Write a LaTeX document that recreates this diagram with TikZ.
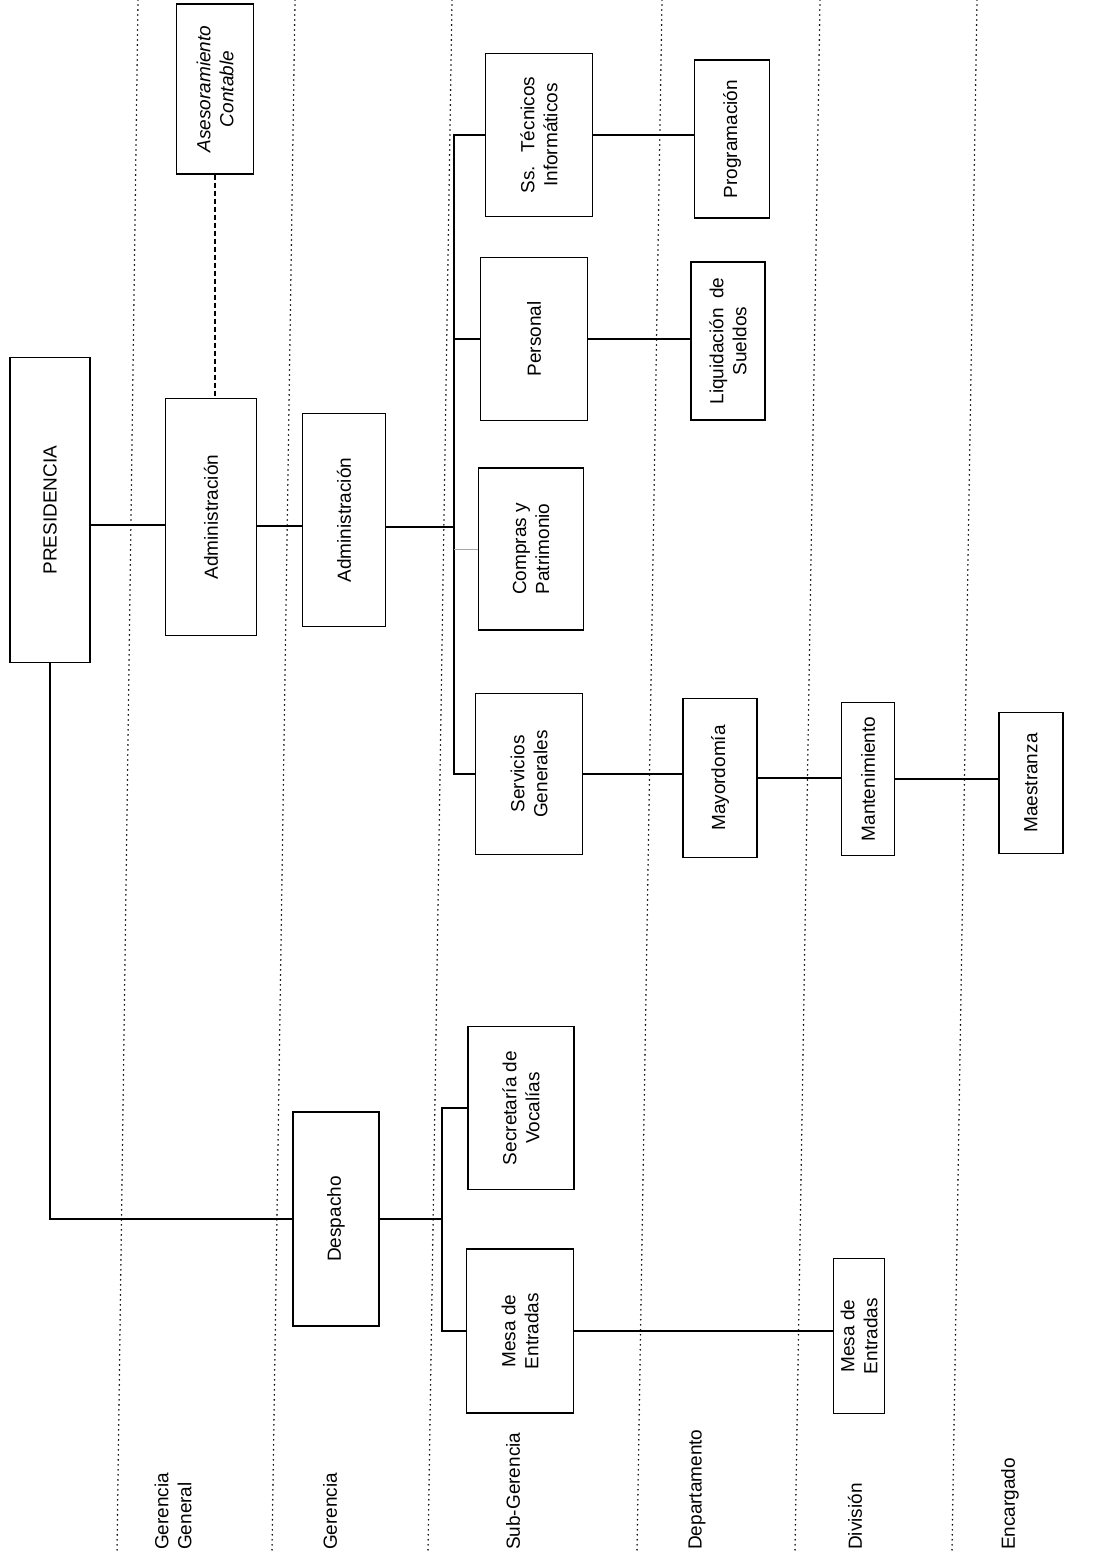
\documentclass[tikz,border=0pt]{standalone}
\usepackage{fontspec}
\setmainfont{Liberation Sans}
\usetikzlibrary{shapes,arrows,positioning,calc}

\begin{document}
\begin{tikzpicture}[
    x=1pt, y=-1pt,
    every node/.style={font=\fontsize{19}{23}\selectfont},
    unit/.style={rectangle, draw, line width=1.3pt, rotate=90, inner sep=0pt, align=center},
    level/.style={rotate=90, anchor=west, inner sep=0pt, align=left},
    link/.style={line width=1.1pt},
    sep/.style={line width=1.8pt, line cap=round, dash pattern=on 0pt off 5pt, black}
]
\useasboundingbox (0,0) rectangle (1099,1559);

% separadores de niveles
\foreach \xa/\xb in {138/117, 295/272, 452/428, 662/637, 820/795, 977/952}
  \draw[sep] (\xa,0) -- (\xb,1552);

% niveles
\node[level] (lvgg) at (173,1550) {Gerencia\\General};
\node[level] (lvger) at (330,1550) {Gerencia};
\node[level] (lvsub) at (513,1550) {Sub-Gerencia};
\node[level] (lvdep) at (697,1550) {Departamento};
\node[level] (lvdiv) at (855,1550) {División};
\node[level] (lvenc) at (1010,1550) {Encargado};

% unidades
\node[unit, minimum width=305pt, minimum height=80pt] (pres) at (50,510) {PRESIDENCIA};
\node[unit, minimum width=237pt, minimum height=91pt] (admgg) at (211,517) {Administración};
\node[unit, minimum width=170pt, minimum height=77pt, font=\fontsize{19}{23}\selectfont\itshape] (aseso) at (215,89) {Asesoramiento\\Contable};
\node[unit, minimum width=213pt, minimum height=83pt] (admger) at (344,520) {Administración};
\node[unit, minimum width=214pt, minimum height=86pt] (desp) at (336,1219) {Despacho};
\node[unit, minimum width=163pt, minimum height=107pt] (sstec) at (539,135) {Ss.\hspace{0.7em}Técnicos\\Informáticos};
\node[unit, minimum width=163pt, minimum height=107pt] (pers) at (534,339) {Personal};
\node[unit, minimum width=162pt, minimum height=105pt] (compras) at (531,549) {Compras y\\Patrimonio};
\node[unit, minimum width=161pt, minimum height=107pt] (servgen) at (529,774) {Servicios\\Generales};
\node[unit, minimum width=163pt, minimum height=106pt] (secvoc) at (521,1108) {Secretaría de\\Vocalías};
\node[unit, minimum width=164pt, minimum height=107pt] (mesasg) at (520,1331) {Mesa de\\Entradas};
\node[unit, minimum width=158pt, minimum height=75pt] (prog) at (732,139) {Programación};
\node[unit, minimum width=158pt, minimum height=74pt] (liq) at (728,341) {Liquidación\hspace{0.5em}de\\Sueldos};
\node[unit, minimum width=159pt, minimum height=74pt] (mayor) at (720,778) {Mayordomía};
\node[unit, minimum width=153pt, minimum height=53pt] (mant) at (868,779) {Mantenimiento};
\node[unit, minimum width=141pt, minimum height=64pt] (maest) at (1031,783) {Maestranza};
\node[unit, minimum width=155pt, minimum height=51pt] (mesadiv) at (859,1336) {Mesa de\\Entradas};

% conexiones
\coordinate (abus) at (454,0);
\coordinate (dbus) at (442,0);
\draw[link] ([yshift=-8pt]admgg.north -| pres.south) -- ([yshift=-8pt]admgg.north);
\draw[link] (pres.west) |- (desp.north);
\draw[link] ([yshift=-9pt]admgg.south) -- ([yshift=-9pt]admgg.south -| admger.north);
\draw[link, dash pattern=on 5pt off 3pt] (aseso.west) -- (aseso.west |- admgg.east);
\draw[link] ([yshift=-7pt]admger.south) -- ([yshift=-7pt]admger.south -| abus);
\draw[link] (sstec.north) -- (sstec.north -| abus) |- (servgen.north);
\draw[link] (pers.north) -- (pers.north -| abus);
\draw[black!35, line width=0.6pt] (compras.north) -- (compras.north -| abus);
\draw[link] (desp.south) -- (desp.south -| dbus);
\draw[link] (secvoc.north) -- (secvoc.north -| dbus) |- (mesasg.north);
\draw[link] (sstec.south) -- (sstec.south -| prog.north);
\draw[link] (pers.south) -- (pers.south -| liq.north);
\draw[link] (servgen.south) -- (servgen.south -| mayor.north);
\draw[link] (mayor.south) -- (mayor.south -| mant.north);
\draw[link] (mant.south) -- (mant.south -| maest.north);
\draw[link] (mesasg.south) -- (mesasg.south -| mesadiv.north);
\end{tikzpicture}
\end{document}
